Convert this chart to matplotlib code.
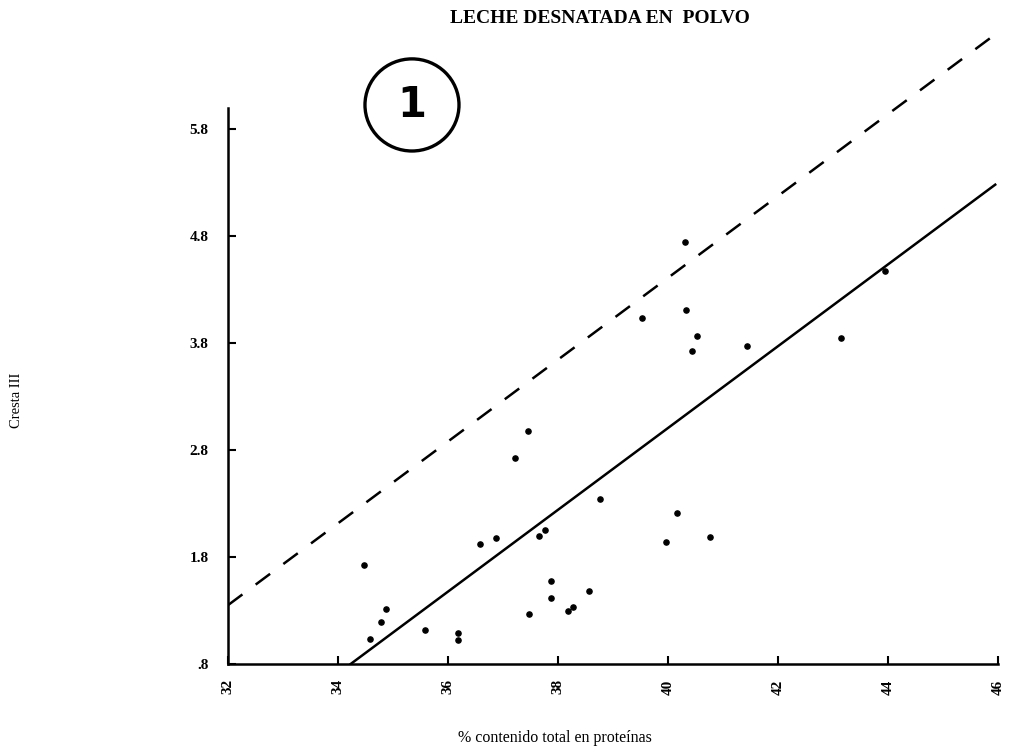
import matplotlib
matplotlib.use("Agg")
import matplotlib.pyplot as plt
from matplotlib.patches import Ellipse

# Muestras de leche desnatada en polvo: proteina total (%) frente a Cresta III
proteina = [34.47, 34.87, 34.78, 34.58, 35.58, 36.18, 36.18, 36.58, 36.87,
            37.45, 37.21, 37.66, 37.76, 38.76, 37.87, 37.87, 37.47, 38.18,
            38.28, 38.57, 40.31, 39.53, 40.32, 40.53, 40.43, 41.44, 43.15,
            43.95, 40.16, 39.96, 40.76]
cresta = [1.73, 1.31, 1.19, 1.03, 1.12, 1.09, 1.02, 1.92, 1.98,
          2.98, 2.73, 2.00, 2.05, 2.34, 1.58, 1.42, 1.27, 1.30,
          1.33, 1.48, 4.74, 4.03, 4.11, 3.87, 3.73, 3.77, 3.85,
          4.47, 2.21, 1.94, 1.99]

# recta de regresion y limite superior
recta_x = [34.23, 45.95]
recta_y = [0.80, 5.28]
limite_x = [32.0, 45.86]
limite_y = [1.35, 6.65]

xticks = [32, 34, 36, 38, 40, 42, 44, 46]
yticks = [0.8, 1.8, 2.8, 3.8, 4.8, 5.8]
ytick_labels = [".8", "1.8", "2.8", "3.8", "4.8", "5.8"]

fig = plt.figure(figsize=(10.11, 7.55), dpi=100)
ax = fig.add_axes([0.2255, 0.1205, 0.7616, 0.8645])

ax.scatter(proteina, cresta, s=14, color="black", zorder=3)
ax.plot(recta_x, recta_y, color="black", lw=1.8)
ax.plot(limite_x, limite_y, color="black", lw=1.8, ls=(0, (7.2, 6.6)))

ax.set_xlim(32, 46)
ax.set_ylim(0.8, 6.9)

for side in ["top", "right"]:
    ax.spines[side].set_visible(False)
ax.spines["left"].set_linewidth(1.8)
ax.spines["bottom"].set_linewidth(1.8)
ax.spines["left"].set_bounds(0.8, 6.0)
ax.spines["bottom"].set_bounds(32, 46)

tick_font = dict(family="Liberation Serif", weight="bold", size=11)
ax.set_xticks(xticks)
ax.set_xticklabels([str(v) for v in xticks], rotation=90, **tick_font)
ax.set_yticks(yticks)
ax.set_yticklabels(ytick_labels, **tick_font)
ax.tick_params(axis="both", direction="in", length=6, width=1.5)
ax.tick_params(axis="x", pad=11)
ax.tick_params(axis="y", pad=14)

fig.text(0.593, 0.976, "LECHE DESNATADA EN  POLVO", ha="center", va="center",
         family="Liberation Serif", weight="bold", size=14)
fig.text(0.549, 0.022, "% contenido total en proteínas", ha="center", va="center",
         family="Liberation Serif", size=11.5)
fig.text(0.016, 0.47, "Cresta III", ha="center", va="center", rotation=90,
         family="Liberation Serif", size=10.5)

# numero de grafico dentro de un circulo
fig.add_artist(Ellipse((0.4075, 0.861), 0.093, 0.122, transform=fig.transFigure,
                       fill=False, edgecolor="black", lw=2.4))
fig.text(0.4075, 0.861, "1", ha="center", va="center",
         family="DejaVu Sans", weight="bold", size=30)

fig.savefig("out.png", dpi=100)
